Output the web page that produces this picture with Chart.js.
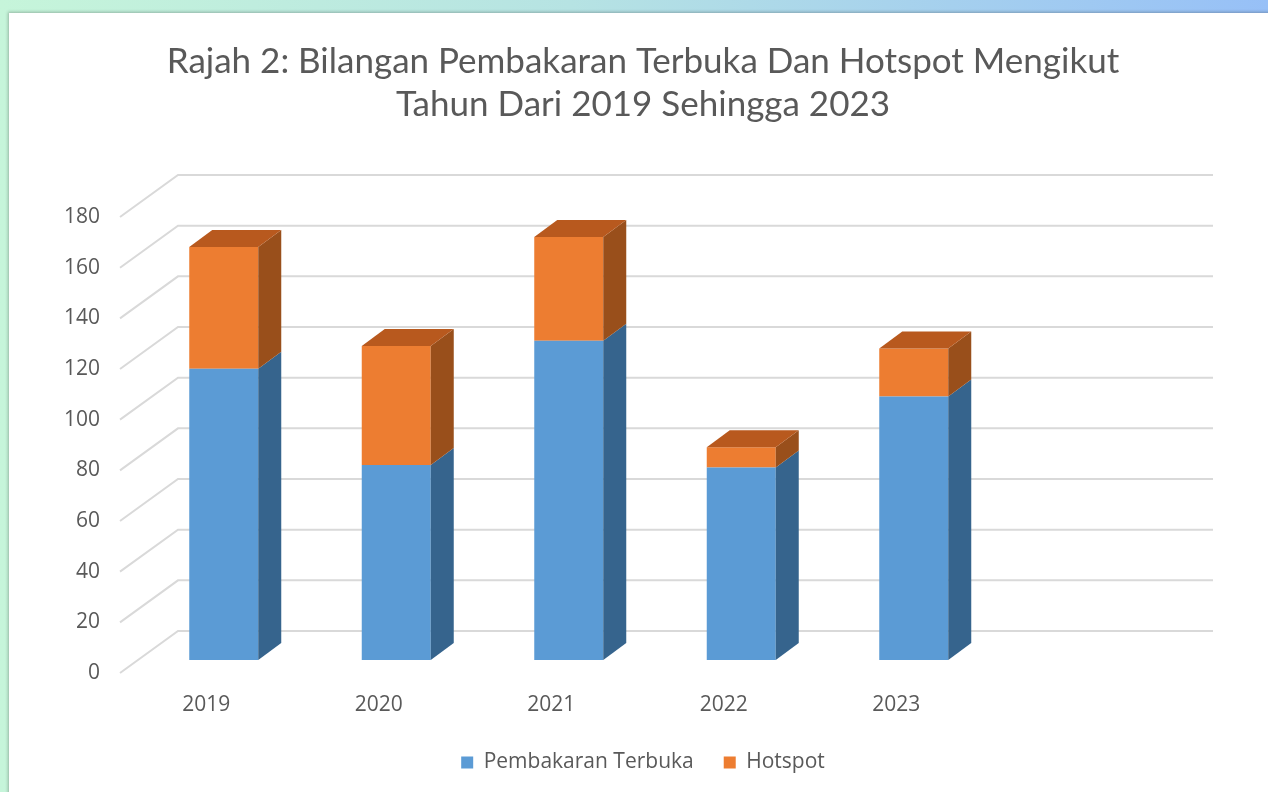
<!DOCTYPE html>
<html>
<head>
<meta charset="utf-8">
<script src="https://cdn.jsdelivr.net/npm/chart.js@4"></script>
<style>
  html, body { margin: 0; padding: 0; }
  body {
    width: 1268px; height: 792px; overflow: hidden; position: relative;
    background: linear-gradient(to right, #c6f5da, #b6e3e3 45%, #97c0f7);
  }
  #card {
    position: absolute; left: 9px; top: 13px; width: 1280px; height: 800px;
    background: #fff; box-shadow: -1px -1px 3px rgba(0,0,0,0.25);
  }
  #wrap { position: absolute; left: 0; top: 0; width: 1268px; height: 792px; }
</style>
</head>
<body>
<div id="card"></div>
<div id="wrap"><canvas id="chart"></canvas></div>
<script>
// data
var years = ['2019', '2020', '2021', '2022', '2023', ''];
var pembakaran = [115, 77, 126, 76, 104, null];
var hotspot = [48, 47, 41, 8, 19, null];
var titleLines = ['Rajah 2: Bilangan Pembakaran Terbuka Dan Hotspot Mengikut', 'Tahun Dari 2019 Sehingga 2023'];

var colors = {
    blue: '#5b9bd5',
    blueSide: '#36648d',
    blueTop: '#4a7fb0',
    orange: '#ed7d31',
    orangeSide: '#994f1b',
    orangeTop: '#b8591e',
    grid: '#d9d9d9',
    text: '#595959'
};

// oblique offsets: back wall, bar front plane, bar depth
var WALL = { dx: 58, dy: -42 };
var BARPOS = { dx: 17.5, dy: -13 };
var DEPTH = { dx: 23, dy: -17 };

var sideCols = [colors.blueSide, colors.orangeSide];
var topCols = [colors.blueTop, colors.orangeTop];

var threeD = {
    id: 'threeD',
    beforeDatasetsDraw: function(chart) {
        var ctx = chart.ctx;
        var area = chart.chartArea;
        var ys = chart.scales.y;
        ctx.save();
        ctx.strokeStyle = colors.grid;
        ctx.lineWidth = 2;
        ys.ticks.forEach(function(t) {
            var yf = ys.getPixelForValue(t.value);
            ctx.beginPath();
            ctx.moveTo(area.left, yf);
            ctx.lineTo(area.left + WALL.dx, yf + WALL.dy);
            ctx.lineTo(area.right + WALL.dx, yf + WALL.dy);
            ctx.stroke();
        });
        ctx.restore();
        ctx.save();
        ctx.translate(BARPOS.dx, BARPOS.dy);
    },
    afterDatasetsDraw: function(chart) {
        var ctx = chart.ctx;
        var tops = {};
        chart.data.datasets.forEach(function(ds, di) {
            var meta = chart.getDatasetMeta(di);
            meta.data.forEach(function(el, i) {
                if (ds.data[i] == null) return;
                var p = el.getProps(['x', 'y', 'base', 'width'], true);
                var x1 = p.x + p.width / 2;
                ctx.fillStyle = sideCols[di];
                ctx.beginPath();
                ctx.moveTo(x1, p.y);
                ctx.lineTo(x1 + DEPTH.dx, p.y + DEPTH.dy);
                ctx.lineTo(x1 + DEPTH.dx, p.base + DEPTH.dy);
                ctx.lineTo(x1, p.base);
                ctx.closePath();
                ctx.fill();
                if (!tops[i] || p.y < tops[i].p.y) tops[i] = { p: p, di: di };
            });
        });
        Object.keys(tops).forEach(function(k) {
            var p = tops[k].p;
            var x0 = p.x - p.width / 2, x1 = p.x + p.width / 2;
            ctx.fillStyle = topCols[tops[k].di];
            ctx.beginPath();
            ctx.moveTo(x0, p.y);
            ctx.lineTo(x0 + DEPTH.dx, p.y + DEPTH.dy);
            ctx.lineTo(x1 + DEPTH.dx, p.y + DEPTH.dy);
            ctx.lineTo(x1, p.y);
            ctx.closePath();
            ctx.fill();
        });
        ctx.restore();
    }
};

var tickFont = { family: 'Open Sans', size: 21 };

var ctx = document.getElementById('chart');
new Chart(ctx, {
    type: 'bar',
    data: {
        labels: years,
        datasets: [{
            label: 'Pembakaran Terbuka',
            data: pembakaran,
            backgroundColor: colors.blue,
            borderWidth: 0,
            clip: false
        }, {
            label: 'Hotspot',
            data: hotspot,
            backgroundColor: colors.orange,
            borderWidth: 0,
            clip: false
        }]
    },
    options: {
        responsive: true,
        maintainAspectRatio: false,
        animation: false,
        barPercentage: 0.4,
        categoryPercentage: 1.0,
        layout: { padding: { left: 18, right: 0, bottom: 9, top: 0 } },
        plugins: {
            title: {
                display: true,
                text: titleLines,
                color: colors.text,
                font: { family: 'Lato', size: 35, weight: 'normal', lineHeight: 1.229 },
                padding: { top: 40, bottom: 91 }
            },
            legend: {
                position: 'bottom',
                labels: {
                    color: colors.text,
                    font: tickFont,
                    boxWidth: 12,
                    boxHeight: 12,
                    padding: 30
                }
            },
            tooltip: { enabled: false }
        },
        scales: {
            x: {
                stacked: true,
                grid: { display: false, drawTicks: false },
                border: { display: false },
                ticks: { color: colors.text, font: tickFont, padding: 19 },
                afterFit: function(s) { s.height = 49; }
            },
            y: {
                stacked: true,
                min: 0,
                max: 180,
                grid: { display: false, drawTicks: false },
                border: { display: false },
                ticks: { stepSize: 20, color: colors.text, font: tickFont, padding: 20 },
                afterFit: function(s) { s.width = 102; }
            },
            yRight: {
                position: 'right',
                display: true,
                grid: { display: false, drawTicks: false },
                border: { display: false },
                ticks: { display: false },
                afterFit: function(s) { s.width = 113; }
            }
        }
    },
    plugins: [threeD]
});
</script>
</body>
</html>
